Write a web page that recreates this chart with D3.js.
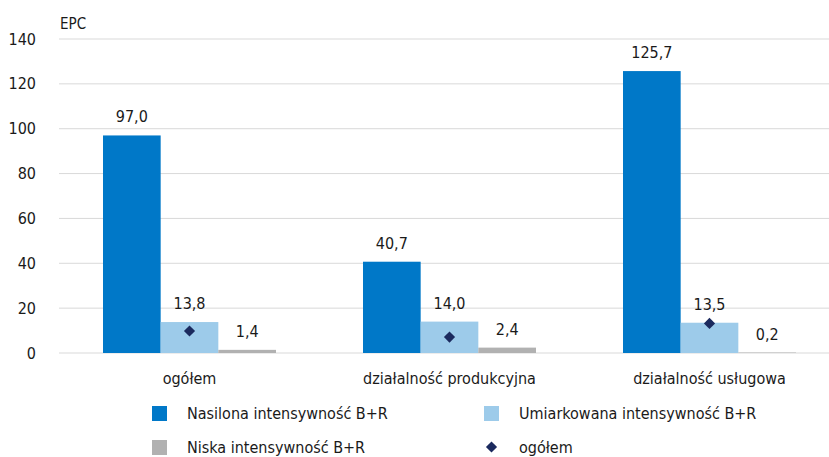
<!DOCTYPE html>
<html><head><meta charset="utf-8">
<script src="https://cdn.jsdelivr.net/npm/d3@7"></script>
<style>
body{margin:0;background:#fff;}
text{font-family:"Liberation Sans Narrow","DejaVu Sans Condensed","Roboto",sans-serif;fill:#1a1a1a;}
</style></head>
<body><svg id="c" width="829" height="457"></svg>
<script>
const categories = ["ogółem", "działalność produkcyjna", "działalność usługowa"];
const seriesNames = ["Nasilona intensywność B+R", "Umiarkowana intensywność B+R", "Niska intensywność B+R"];
const nasilona = [97.0, 40.7, 125.7];
const umiarkowana = [13.8, 14.0, 13.5];
const niska = [1.4, 2.4, 0.2];
const ogolem = [9.8, 7.1, 13.2];
const yTicks = [0, 20, 40, 60, 80, 100, 120, 140];
const colors = ["#0078C8", "#9DCBEA", "#B1B1B1"];
const diamondColor = "#1B2A5E";

const svg = d3.select("#c");
const y = d3.scaleLinear().domain([0, 140]).range([353, 39]);
const x0 = d3.scaleBand().domain(categories).range([59.5, 839.5]).paddingInner(0).paddingOuter(0);
const x1 = d3.scaleBand().domain([0,1,2]).range([0, x0.bandwidth()]).paddingOuter(0.5).paddingInner(0);
// bars occupy ~173 of 260 px
x1.range([43.5, 216.5]).padding(0);

const series = [nasilona, umiarkowana, niska];

// gridlines
svg.append("g").selectAll("line").data(yTicks).join("line")
  .attr("x1", 59).attr("x2", 829)
  .attr("y1", d => y(d)).attr("y2", d => y(d))
  .attr("stroke", "#d9d9d9").attr("stroke-width", 1);

// y tick labels
svg.append("g").selectAll("text").data(yTicks).join("text")
  .attr("x", 36).attr("y", d => y(d)).attr("dy", "0.35em")
  .attr("text-anchor", "end").attr("font-size", 16).text(d => d);

svg.append("text").attr("x", 60).attr("y", 29).attr("font-size", 15).text("EPC");

// bars
const fmt = v => v.toFixed(1).replace(".", ",");
series.forEach((vals, si) => {
  const g = svg.append("g");
  g.selectAll("rect").data(vals).join("rect")
    .attr("x", (d, i) => x0(categories[i]) + x1(si))
    .attr("width", x1.bandwidth())
    .attr("y", d => y(d))
    .attr("height", d => y(0) - y(d))
    .attr("fill", colors[si]);
  g.selectAll("text").data(vals).join("text")
    .attr("x", (d, i) => x0(categories[i]) + x1(si) + x1.bandwidth() / 2)
    .attr("y", d => y(d) - 13)
    .attr("text-anchor", "middle").attr("font-size", 16)
    .text(d => fmt(d));
});

// diamonds
const diamond = d3.symbol().type(d3.symbolDiamond2).size(80);
svg.append("g").selectAll("path").data(ogolem).join("path")
  .attr("d", diamond)
  .attr("transform", (d, i) => `translate(${x0(categories[i]) + x1(1) + x1.bandwidth() / 2},${y(d)})`)
  .attr("fill", diamondColor);

// category labels
svg.append("g").selectAll("text").data(categories).join("text")
  .attr("x", d => x0(d) + x0.bandwidth() / 2)
  .attr("y", 384).attr("text-anchor", "middle").attr("font-size", 16)
  .text(d => d);

// legend
const legendItems = [
  {name: seriesNames[0], type: "rect", color: colors[0], x: 152, y: 413},
  {name: seriesNames[1], type: "rect", color: colors[1], x: 484, y: 413},
  {name: seriesNames[2], type: "rect", color: colors[2], x: 152, y: 447},
  {name: "ogółem", type: "diamond", color: diamondColor, x: 484, y: 447}
];
const lg = svg.append("g");
legendItems.forEach(it => {
  if (it.type === "rect") {
    lg.append("rect").attr("x", it.x).attr("y", it.y - 7).attr("width", 15).attr("height", 15).attr("fill", it.color);
  } else {
    lg.append("path").attr("d", diamond).attr("transform", `translate(${it.x + 7.5},${it.y})`).attr("fill", it.color);
  }
  lg.append("text").attr("x", it.x + 35).attr("y", it.y).attr("dy", "0.35em").attr("font-size", 16).text(it.name);
});
</script></body></html>
